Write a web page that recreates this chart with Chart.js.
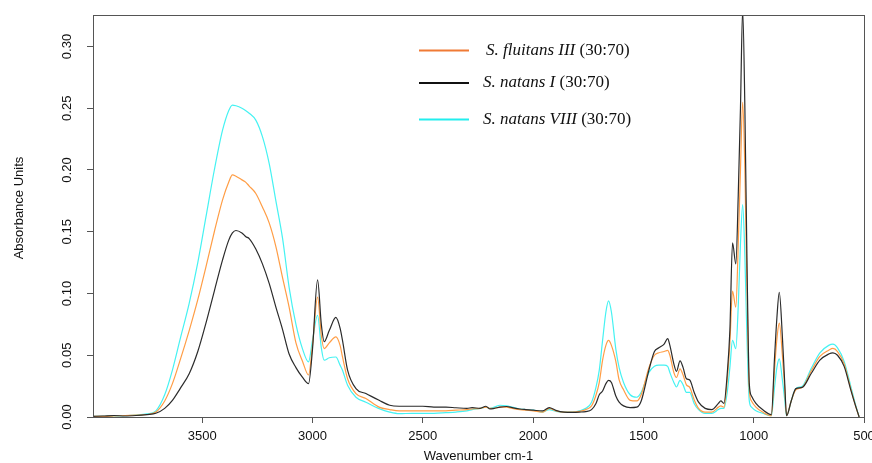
<!DOCTYPE html>
<html>
<head>
<meta charset="utf-8">
<script src="https://cdn.jsdelivr.net/npm/chart.js@4.4.1/dist/chart.umd.min.js"></script>
<style>
  html, body { margin: 0; padding: 0; background: #fff; }
  #wrap { width: 872px; height: 463px; position: relative; }
</style>
</head>
<body>
<div id="wrap"><canvas id="c" width="872" height="463"></canvas></div>
<script>
// Wavenumber grid (cm-1)
const wavenumbers = [4000,3950,3900,3850,3800,3750,3710,3670,3635,3600,3559,3520,3483,3445,3408,3380,3363,3347,3320,3302,3287,3257,3227,3196,3166,3136,3106,3075,3045,3018,3000,2977,2960,2947,2924,2894,2875,2864,2841,2803,2758,2698,2650,2607,2548,2500,2450,2395,2350,2300,2276,2240,2214,2195,2176,2150,2120,2095,2060,2033,2000,1957,1927,1897,1860,1821,1790,1761,1735,1715,1700,1685,1670,1658,1645,1625,1610,1590,1560,1530,1510,1475,1450,1430,1406,1390,1380,1362,1350,1334,1320,1305,1290,1270,1250,1220,1190,1160,1149,1135,1120,1108,1096,1081,1070,1060,1050,1040,1030,1020,1010,990,960,920,905,895,884,870,860,851,830,809,780,740,700,660,641,620,590,560,540,522];

// S. natans I (30:70) - black
const natansI = [0.0005,0.0008,0.0012,0.0008,0.0012,0.002,0.003,0.007,0.0135,0.023,0.035,0.053,0.076,0.102,0.127,0.143,0.149,0.151,0.149,0.146,0.1445,0.136,0.124,0.108,0.089,0.071,0.051,0.040,0.032,0.027,0.055,0.111,0.075,0.061,0.070,0.0806,0.072,0.062,0.038,0.023,0.019,0.0135,0.0095,0.0087,0.0087,0.0087,0.008,0.008,0.0075,0.007,0.0076,0.007,0.0087,0.0065,0.007,0.008,0.0085,0.0076,0.0065,0.006,0.0055,0.0049,0.0076,0.0054,0.004,0.0038,0.004,0.0044,0.006,0.011,0.018,0.021,0.027,0.0297,0.028,0.017,0.012,0.009,0.0076,0.008,0.013,0.038,0.053,0.056,0.059,0.0635,0.058,0.043,0.037,0.0454,0.040,0.031,0.030,0.020,0.012,0.007,0.006,0.011,0.013,0.011,0.035,0.07,0.141,0.124,0.18,0.25,0.33,0.25,0.12,0.027,0.017,0.011,0.006,0.002,0.05,0.08,0.101,0.065,0.03,0.001,0.013,0.023,0.024,0.035,0.046,0.051,0.052,0.050,0.041,0.022,0.010,0.0];

// S. fluitans III (30:70) - orange
const fluitansIII = [0.0005,0.0005,0.0008,0.0012,0.0015,0.002,0.004,0.013,0.027,0.046,0.070,0.095,0.1216,0.150,0.1756,0.190,0.196,0.195,0.192,0.190,0.187,0.181,0.170,0.157,0.138,0.113,0.089,0.060,0.045,0.034,0.058,0.097,0.066,0.0554,0.060,0.0648,0.058,0.0486,0.031,0.019,0.015,0.008,0.006,0.0049,0.0049,0.005,0.005,0.005,0.0055,0.006,0.0065,0.007,0.008,0.007,0.007,0.008,0.008,0.007,0.006,0.0055,0.005,0.004,0.007,0.005,0.004,0.004,0.0045,0.006,0.009,0.0176,0.028,0.046,0.058,0.062,0.058,0.045,0.030,0.022,0.0135,0.013,0.018,0.040,0.050,0.052,0.053,0.054,0.050,0.036,0.032,0.039,0.034,0.026,0.024,0.014,0.007,0.004,0.004,0.008,0.009,0.008,0.030,0.060,0.102,0.089,0.14,0.20,0.255,0.20,0.10,0.022,0.013,0.008,0.004,0.001,0.04,0.063,0.076,0.05,0.025,0.001,0.013,0.022,0.024,0.037,0.049,0.054,0.0555,0.053,0.043,0.023,0.010,0.0];

// S. natans VIII (30:70) - cyan
const natansVIII = [0.0005,0.0006,0.0008,0.001,0.0015,0.0025,0.005,0.018,0.038,0.063,0.092,0.125,0.162,0.200,0.232,0.248,0.2526,0.252,0.250,0.248,0.246,0.2404,0.227,0.205,0.175,0.145,0.105,0.075,0.055,0.0446,0.062,0.0824,0.056,0.046,0.048,0.0486,0.042,0.0378,0.0257,0.016,0.012,0.0068,0.004,0.0027,0.003,0.003,0.003,0.0035,0.004,0.005,0.006,0.007,0.008,0.007,0.008,0.0095,0.009,0.008,0.0065,0.006,0.0055,0.004,0.006,0.0045,0.004,0.004,0.005,0.007,0.012,0.024,0.038,0.062,0.085,0.094,0.085,0.055,0.040,0.028,0.018,0.016,0.020,0.036,0.041,0.042,0.042,0.041,0.036,0.028,0.0243,0.0297,0.026,0.020,0.020,0.011,0.006,0.003,0.003,0.006,0.007,0.007,0.020,0.040,0.062,0.0554,0.09,0.14,0.172,0.13,0.06,0.013,0.008,0.005,0.003,0.001,0.025,0.040,0.047,0.030,0.015,0.001,0.013,0.023,0.025,0.039,0.052,0.058,0.059,0.056,0.045,0.025,0.011,0.0];

const xTicks = [3500,3000,2500,2000,1500,1000,500];
const yTicks = [0,0.05,0.10,0.15,0.20,0.25,0.30];
const seriesNames = ['S. fluitans III', 'S. natans I', 'S. natans VIII'];
const seriesSuffix = ' (30:70)';

const toPts = arr => wavenumbers.map((w, i) => ({ x: w, y: arr[i] }));

const AXIS = '#555';
const SANS = '"Liberation Sans", Arial, sans-serif';
const SERIF = '"Liberation Serif", "Times New Roman", serif';

const decor = {
  id: 'decor',
  afterDraw(chart) {
    const ctx = chart.ctx, a = chart.chartArea;
    const xs = chart.scales.x, ys = chart.scales.y;
    ctx.save();
    // frame
    ctx.strokeStyle = AXIS; ctx.lineWidth = 1;
    ctx.strokeRect(Math.round(a.left) + 0.5, Math.round(a.top) + 0.5, Math.round(a.right - a.left), Math.round(a.bottom - a.top));
    // x tick labels
    ctx.fillStyle = '#111';
    ctx.font = '13px ' + SANS;
    ctx.textAlign = 'center'; ctx.textBaseline = 'middle';
    xTicks.forEach(v => ctx.fillText(String(v), xs.getPixelForValue(v), 436));
    // x title
    ctx.fillText('Wavenumber cm-1', (a.left + a.right) / 2, 456);
    // y tick labels rotated
    yTicks.forEach(v => {
      ctx.save();
      ctx.translate(67, ys.getPixelForValue(v));
      ctx.rotate(-Math.PI / 2);
      ctx.fillText(v.toFixed(2), 0, 0);
      ctx.restore();
    });
    // y title
    ctx.save();
    ctx.translate(19, 208);
    ctx.rotate(-Math.PI / 2);
    ctx.fillText('Absorbance Units', 0, 0);
    ctx.restore();
    // legend
    const rows = [
      { color: '#F07A35', y: 50.5, tx: 486, name: seriesNames[0] },
      { color: '#111111', y: 83, tx: 483, name: seriesNames[1] },
      { color: '#22EEEE', y: 119.5, tx: 483, name: seriesNames[2] }
    ];
    rows.forEach(r => {
      ctx.strokeStyle = r.color; ctx.lineWidth = 2.2;
      ctx.beginPath(); ctx.moveTo(419, r.y); ctx.lineTo(469, r.y); ctx.stroke();
      ctx.fillStyle = '#111'; ctx.textAlign = 'left'; ctx.textBaseline = 'middle';
      ctx.font = 'italic 17px ' + SERIF;
      ctx.fillText(r.name, r.tx, r.y);
      const w = ctx.measureText(r.name).width;
      ctx.font = '17px ' + SERIF;
      ctx.fillText(seriesSuffix, r.tx + w, r.y);
    });
    ctx.restore();
  }
};

new Chart(document.getElementById('c'), {
  type: 'line',
  data: {
    datasets: [
      { label: seriesNames[1], data: toPts(natansI), borderColor: '#2b2b2b', order: 1 },
      { label: seriesNames[0], data: toPts(fluitansIII), borderColor: '#FF9D45', order: 2 },
      { label: seriesNames[2], data: toPts(natansVIII), borderColor: '#45F2F2', order: 3 }
    ]
  },
  options: {
    responsive: false,
    animation: false,
    parsing: true,
    elements: {
      point: { radius: 0 },
      line: { borderWidth: 1.2, cubicInterpolationMode: 'monotone', fill: false }
    },
    layout: { padding: { left: 0, top: 15, right: 8, bottom: 0 } },
    plugins: { legend: { display: false }, tooltip: { enabled: false } },
    scales: {
      x: {
        type: 'linear', reverse: true, min: 500, max: 3995,
        afterBuildTicks: s => { s.ticks = xTicks.map(v => ({ value: v })); },
        afterFit: s => { s.height = 46; s.paddingLeft = 0; s.paddingRight = 0; },
        ticks: { display: false },
        grid: { drawOnChartArea: false, drawTicks: true, tickLength: 6, color: AXIS },
        border: { display: true, color: AXIS }
      },
      y: {
        type: 'linear', min: 0, max: 0.3255,
        afterBuildTicks: s => { s.ticks = yTicks.map(v => ({ value: v })); },
        afterFit: s => { s.width = 93; },
        ticks: { display: false },
        grid: { drawOnChartArea: false, drawTicks: true, tickLength: 6, color: AXIS },
        border: { display: true, color: AXIS }
      }
    }
  },
  plugins: [decor]
});
</script>
</body>
</html>
